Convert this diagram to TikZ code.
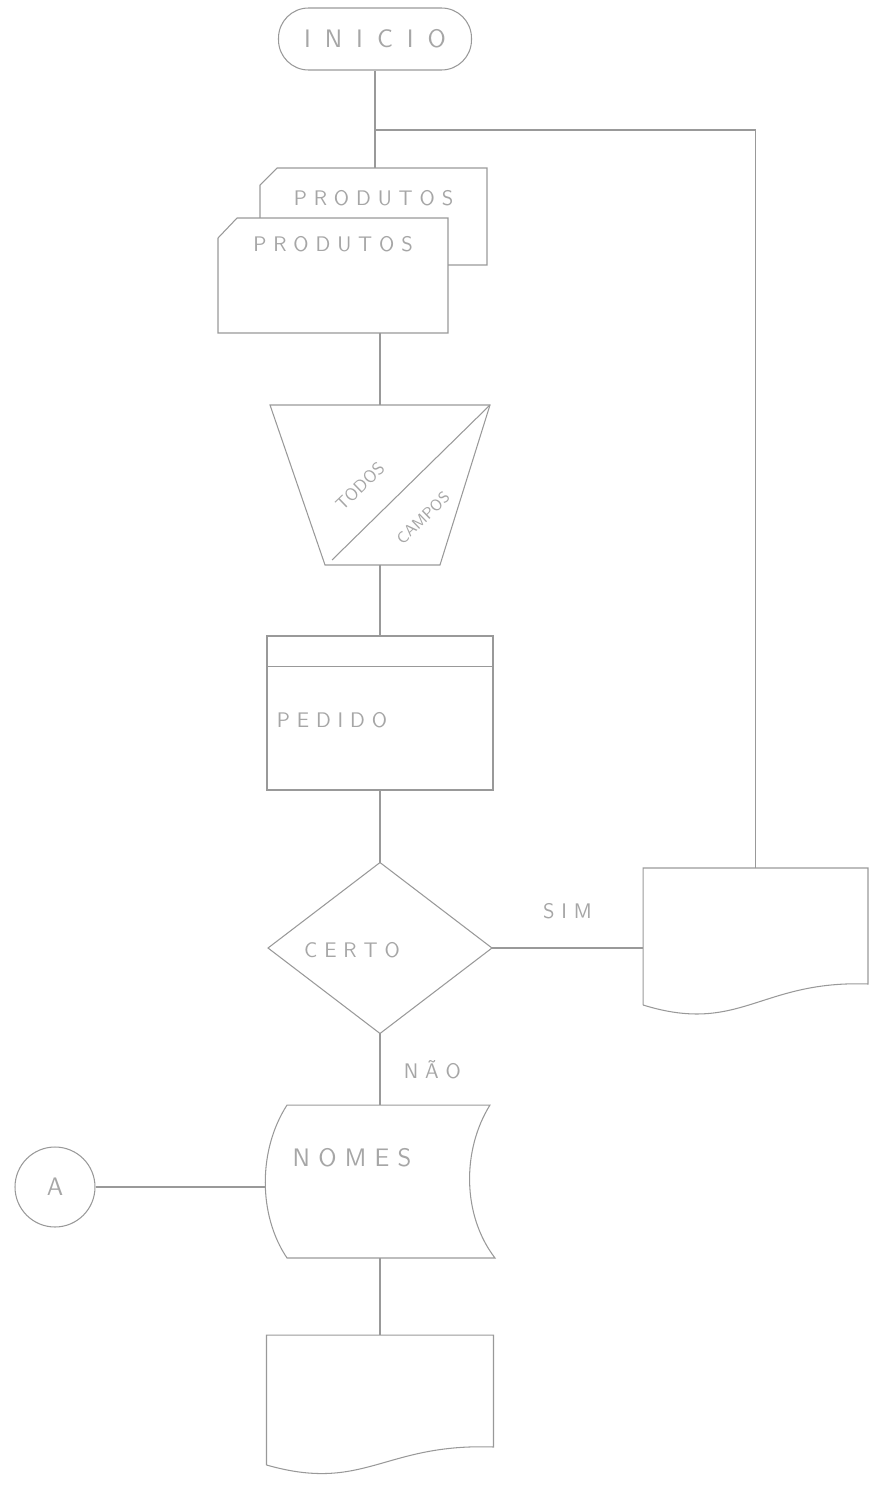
\documentclass[tikz,border=0pt]{standalone}
\usetikzlibrary{positioning, calc}
\begin{document}
\begin{tikzpicture}[x=0.02cm, y=-0.02cm,
    line/.style={draw=black!40, line width=0.6pt},
    frame/.style={inner sep=0pt, outer sep=0pt},
    txt/.style={text=black!35, font=\sffamily\large},
]
\useasboundingbox (0,0) rectangle (869,1487);

% Start
\node[line, txt, rounded corners=0.6cm, minimum width=3.86cm, minimum height=1.24cm,
    font=\sffamily\Large] (start) at (375,39) {I\hspace{8pt}N\hspace{8pt}I\hspace{8pt}C\hspace{8pt}I\hspace{8pt}O};
\coordinate (join) at (375,130);

% Cards
\node[frame, minimum width=4.54cm, minimum height=1.94cm] (back) at (373.5,216.5) {};
\draw[line] ($(back.north west)+(0,17)$) -- ($(back.north west)+(17,0)$) -- (back.north east)
    -- (back.south east) -- (back.south west) -- cycle;
\node[txt] (backtxt) at ($(back.north)+(0,30)$) {P R O D U T O S};
\node[frame, minimum width=4.6cm, minimum height=2.3cm] (front) at (333,275.5) {};
\draw[line, fill=white] ($(front.north west)+(0,20)$) -- ($(front.north west)+(19,0)$) -- (front.north east)
    -- (front.south east) -- (front.south west) -- cycle;
\node[txt] (fronttxt) at ($(front.north)+(0,26)$) {P R O D U T O S};

% Manual operation
\node[frame, minimum width=4.4cm, minimum height=3.2cm] (manual) at (380,485) {};
\draw[line] (manual.north west) -- (manual.north east) -- ($(manual.south east)+(-50,0)$)
    -- ($(manual.south west)+(55,0)$) -- cycle;
\draw[line] ($(manual.south west)+(62,-5)$) -- (manual.north east);
\node[txt, font=\sffamily, inner sep=1pt, rotate=44] (todos) at (360,486) {TODOS};
\node[txt, font=\sffamily\small, inner sep=1pt, rotate=44] (campos) at (423,518) {CAMPOS};

% Header box
\node[line, minimum width=4.52cm, minimum height=3.08cm] (hdr) at (380,713) {};
\draw[line] ($(hdr.north west)+(0,31)$) -- ($(hdr.north east)+(0,31)$);
\node[txt] (pedido) at (332,720) {P E D I D O};

% Decision
\node[frame, minimum width=4.48cm, minimum height=3.42cm] (dec) at (380,948) {};
\draw[line] (dec.north) -- (dec.east) -- (dec.south) -- (dec.west) -- cycle;
\node[txt] (certo) at (352,950) {C E R T O};

% Document on the right
\node[frame, minimum width=4.5cm, minimum height=2.74cm] (rdoc) at (755.5,936.5) {};
\draw[line] (rdoc.south west) -- (rdoc.north west) -- (rdoc.north east) -- ($(rdoc.south east)+(0,-21)$)
    .. controls ($(rdoc.south east)+(-108,-25)$) and ($(rdoc.south west)+(97,30)$) .. (rdoc.south west);

% Display
\node[frame, minimum width=4.6cm, minimum height=3.06cm] (disp) at (380,1181.5) {};
\draw[line] ($(disp.north west)+(22,0)$) -- ($(disp.north east)+(-5,0)$)
    .. controls ($(disp.north east)+(-33,45)$) and ($(disp.south east)+(-33,-43)$) .. (disp.south east)
    -- ($(disp.south west)+(22,0)$)
    .. controls ($(disp.south west)+(-7,-43)$) and ($(disp.north west)+(-7,45)$) .. cycle;
\node[txt, font=\sffamily\Large] (nomes) at (352,1158) {N O M E S};

% Connector A
\node[line, circle, minimum size=1.6cm, txt, font=\sffamily\Large] (conA) at (55,1187) {A};

% Document at the bottom
\node[frame, minimum width=4.54cm, minimum height=2.6cm] (bdoc) at (380,1400) {};
\draw[line] (bdoc.south west) -- (bdoc.north west) -- (bdoc.north east) -- ($(bdoc.south east)+(0,-18)$)
    .. controls ($(bdoc.south east)+(-110,-22)$) and ($(bdoc.south west)+(98,28)$) .. (bdoc.south west);

% Connectors
\draw[line] (start.south) -- (join) -- (start.south |- back.north);
\draw[line] (rdoc.north) -- (rdoc.north |- join) -- (join);
\draw[line] (front.south -| manual.north) -- (manual.north);
\draw[line] (manual.south) -- (hdr.north);
\draw[line] (hdr.south) -- (dec.north);
\draw[line] (dec.east) -- (dec.east -| rdoc.west)
    node[midway, above=0.45cm, txt] (sim) {S I M};
\draw[line] (dec.south) -- (disp.north)
    node[midway, right=0.35cm, txt] (nao) {N Ã O};
\draw[line] (conA.east) -- (conA.east -| disp.west);
\draw[line] (disp.south) -- (bdoc.north);

\end{tikzpicture}
\end{document}
